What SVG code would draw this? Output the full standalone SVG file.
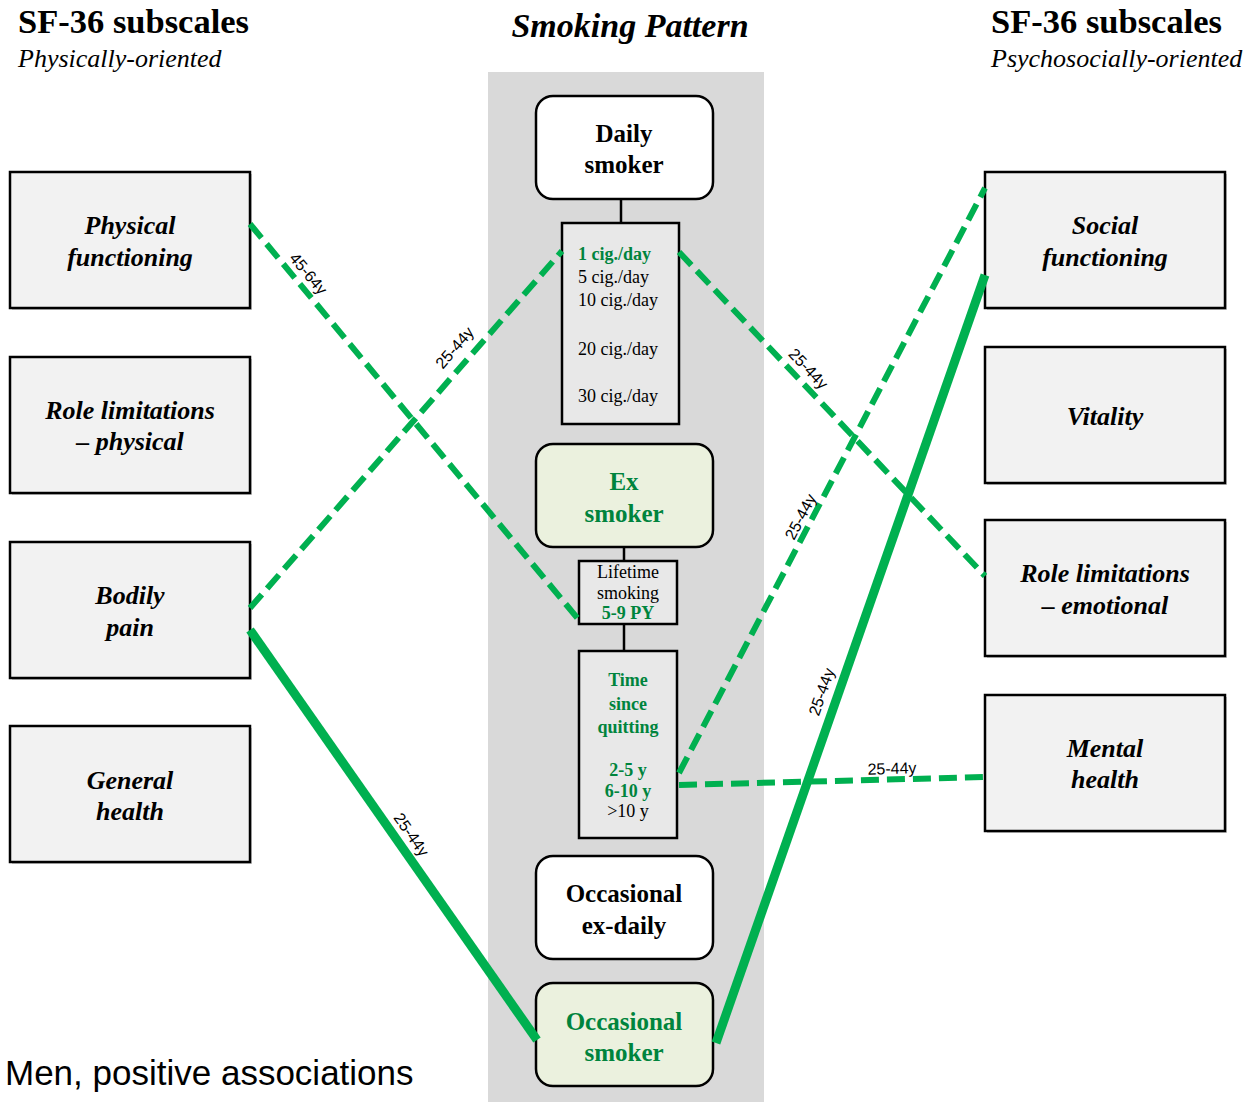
<svg xmlns="http://www.w3.org/2000/svg" width="1253" height="1102" viewBox="0 0 1253 1102">
<style>
.hdr{font-family:"Liberation Serif",serif;font-weight:bold;font-size:34.5px;fill:#000}
.sub{font-family:"Liberation Serif",serif;font-style:italic;font-size:26px;fill:#000}
.ttl{font-family:"Liberation Serif",serif;font-weight:bold;font-style:italic;font-size:34px;fill:#000}
.box{fill:#f2f2f2;stroke:#000;stroke-width:2.5}
.shd{fill:#a6a6a6;opacity:0.6}
.bt{font-family:"Liberation Serif",serif;font-weight:bold;font-style:italic;font-size:26px;fill:#000;text-anchor:middle}
.rnd{stroke:#000;stroke-width:2.5}
.ct{font-family:"Liberation Serif",serif;font-weight:bold;font-size:25px;text-anchor:middle}
.sm{font-family:"Liberation Serif",serif;font-size:18px;fill:#000}
.gb{fill:#00843d;font-weight:bold}
.sq{fill:#e8e8e8;stroke:#000;stroke-width:2.5}
.dash{stroke:#00b050;stroke-width:6;stroke-dasharray:18 8;fill:none}
.solid{stroke:#00b050;stroke-width:9;fill:none}
.lbl{font-family:"Liberation Sans",sans-serif;font-size:16px;fill:#000;text-anchor:middle}
.stem{stroke:#000;stroke-width:2.5}
</style>
<rect width="1253" height="1102" fill="#fff"/>
<rect x="488" y="72" width="276" height="1030" fill="#d9d9d9"/>
<g id="headers">
<text class="hdr" x="18" y="33">SF-36 subscales</text>
<text class="sub" x="18" y="67">Physically-oriented</text>
<text class="hdr" x="991" y="33">SF-36 subscales</text>
<text class="sub" x="991" y="67">Psychosocially-oriented</text>
<text class="ttl" x="630" y="37" text-anchor="middle">Smoking Pattern</text>
</g>
<g id="stems">
<line class="stem" x1="621" y1="199" x2="621" y2="223"/>
<line class="stem" x1="624" y1="547" x2="624" y2="561"/>
<line class="stem" x1="624" y1="624" x2="624" y2="651"/>
</g>
<g id="n-physical"><rect class="shd" x="12" y="174" width="240" height="136"/><rect class="box" x="10" y="172" width="240" height="136"/><text class="bt" x="130" y="234">Physical</text><text class="bt" x="130" y="266">functioning</text></g>
<g id="n-rolephys"><rect class="shd" x="12" y="359" width="240" height="136"/><rect class="box" x="10" y="357" width="240" height="136"/><text class="bt" x="130" y="419">Role limitations</text><text class="bt" x="130" y="450">– physical</text></g>
<g id="n-pain"><rect class="shd" x="12" y="544" width="240" height="136"/><rect class="box" x="10" y="542" width="240" height="136"/><text class="bt" x="130" y="604">Bodily</text><text class="bt" x="130" y="636">pain</text></g>
<g id="n-general"><rect class="shd" x="12" y="728" width="240" height="136"/><rect class="box" x="10" y="726" width="240" height="136"/><text class="bt" x="130" y="789">General</text><text class="bt" x="130" y="820">health</text></g>
<g id="n-social"><rect class="shd" x="987" y="174" width="240" height="136"/><rect class="box" x="985" y="172" width="240" height="136"/><text class="bt" x="1105" y="234">Social</text><text class="bt" x="1105" y="266">functioning</text></g>
<g id="n-vitality"><rect class="shd" x="987" y="349" width="240" height="136"/><rect class="box" x="985" y="347" width="240" height="136"/><text class="bt" x="1105" y="425">Vitality</text></g>
<g id="n-roleemo"><rect class="shd" x="987" y="522" width="240" height="136"/><rect class="box" x="985" y="520" width="240" height="136"/><text class="bt" x="1105" y="582">Role limitations</text><text class="bt" x="1105" y="614">– emotional</text></g>
<g id="n-mental"><rect class="shd" x="987" y="697" width="240" height="136"/><rect class="box" x="985" y="695" width="240" height="136"/><text class="bt" x="1105" y="757">Mental</text><text class="bt" x="1105" y="788">health</text></g>
<g id="n-daily"><rect class="rnd" x="536" y="96" width="177" height="103" rx="17" fill="#fff"/><text class="ct" x="624" y="142">Daily</text><text class="ct" x="624" y="173">smoker</text></g>
<g id="n-cig"><rect class="sq" x="562" y="223" width="117" height="201"/>
<text class="sm gb" x="578" y="260">1 cig./day</text>
<text class="sm" x="578" y="283">5 cig./day</text>
<text class="sm" x="578" y="306">10 cig./day</text>
<text class="sm" x="578" y="355">20 cig./day</text>
<text class="sm" x="578" y="402">30 cig./day</text></g>
<g id="n-ex"><rect class="rnd" x="536" y="444" width="177" height="103" rx="17" fill="#ebf1de"/><text class="ct" x="624" y="490" fill="#00843d">Ex</text><text class="ct" x="624" y="522" fill="#00843d">smoker</text></g>
<g id="n-lifetime"><rect class="sq" x="579" y="561" width="98" height="63"/>
<text class="sm" x="628" y="578" text-anchor="middle" font-size="16.5">Lifetime</text>
<text class="sm" x="628" y="599" text-anchor="middle" font-size="16.5">smoking</text>
<text class="sm gb" x="628" y="619" text-anchor="middle" font-size="16.5">5-9 PY</text></g>
<g id="n-tsq"><rect class="sq" x="579" y="651" width="98" height="187"/>
<text class="sm gb" x="628" y="686" text-anchor="middle">Time</text>
<text class="sm gb" x="628" y="710" text-anchor="middle">since</text>
<text class="sm gb" x="628" y="733" text-anchor="middle">quitting</text>
<text class="sm gb" x="628" y="776" text-anchor="middle">2-5 y</text>
<text class="sm gb" x="628" y="797" text-anchor="middle">6-10 y</text>
<text class="sm" x="628" y="817" text-anchor="middle">&gt;10 y</text></g>
<g id="n-occexd"><rect class="rnd" x="536" y="856" width="177" height="103" rx="17" fill="#fff"/><text class="ct" x="624" y="902">Occasional</text><text class="ct" x="624" y="934">ex-daily</text></g>
<g id="n-occ"><rect class="rnd" x="536" y="983" width="177" height="103" rx="17" fill="#ebf1de"/><text class="ct" x="624" y="1030" fill="#00843d">Occasional</text><text class="ct" x="624" y="1061" fill="#00843d">smoker</text></g>
<g id="connectors">
<line class="dash" x1="250" y1="224" x2="579" y2="620"/>
<line class="dash" x1="250" y1="608" x2="562" y2="251"/>
<line class="solid" x1="250" y1="630" x2="537" y2="1040"/>
<line class="dash" x1="679" y1="252" x2="985" y2="576"/>
<line class="dash" x1="679" y1="773" x2="985" y2="188"/>
<line class="dash" x1="679" y1="785" x2="985" y2="777"/>
<line class="solid" x1="716" y1="1043" x2="985" y2="275"/>
<text class="lbl" transform="translate(308,274) rotate(50)" y="5">45-64y</text>
<text class="lbl" transform="translate(455,348) rotate(-49)" y="5">25-44y</text>
<text class="lbl" transform="translate(411,835) rotate(55)" y="5">25-44y</text>
<text class="lbl" transform="translate(808,369) rotate(46.6)" y="5">25-44y</text>
<text class="lbl" transform="translate(801,517) rotate(-62.4)" y="5">25-44y</text>
<text class="lbl" transform="translate(892,769) rotate(-1.5)" y="5">25-44y</text>
<text class="lbl" transform="translate(822,692) rotate(-70.7)" y="5">25-44y</text>
</g>
<text x="5" y="1085" font-family="'Liberation Sans',sans-serif" font-size="35" fill="#000">Men, positive associations</text>
</svg>
